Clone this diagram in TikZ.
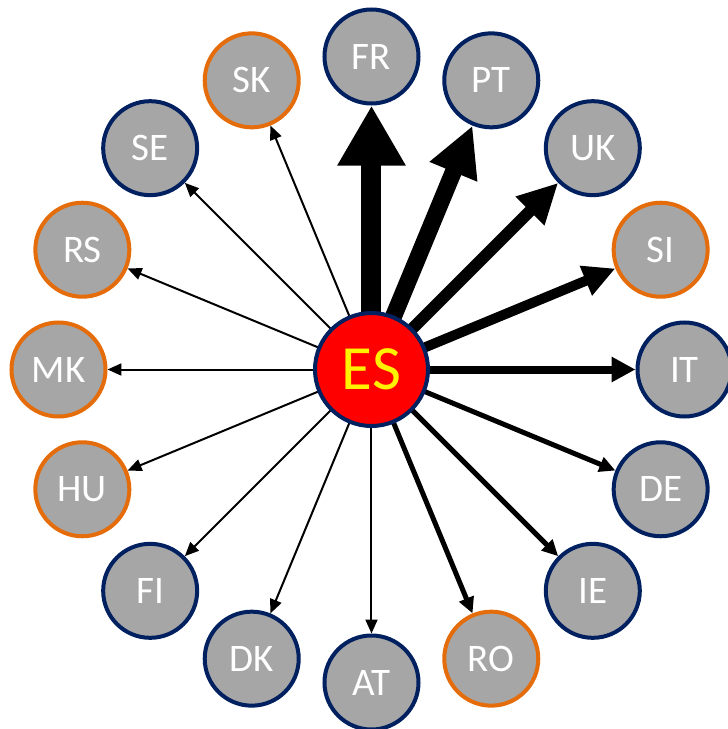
\documentclass[tikz,border=0pt]{standalone}
\usepackage{fontspec}
\setmainfont{Carlito}
\usetikzlibrary{arrows.meta,backgrounds}
\definecolor{navy}{HTML}{002060}
\definecolor{orng}{HTML}{E46C0A}
\definecolor{gry}{HTML}{A6A6A6}
\tikzset{
  cty/.style={circle,minimum size=94pt,inner sep=0pt,line width=4pt,fill=gry,
     text=white,font=\fontsize{39}{39}\selectfont},
  bluec/.style={cty,draw=navy},
  orac/.style={cty,draw=orng},
  hub/.style={circle,minimum size=113pt,inner sep=0pt,line width=4pt,fill=red,draw=navy,
     text=yellow,font=\fontsize{63}{63}\selectfont},
  arw/.style={draw=black,line width=#1},
  wA/.style={arw=20pt,-{Triangle[length=60pt,width=64pt]}},
  wB/.style={arw=17pt,-{Triangle[length=50pt,width=48pt]}},
  wC/.style={arw=12pt,-{Triangle[length=40pt,width=38pt]}},
  wD/.style={arw=10pt,-{Triangle[length=32pt,width=30pt]}},
  wE/.style={arw=8pt,-{Triangle[length=24pt,width=24pt]}},
  wF/.style={arw=5pt,-{Triangle[length=16pt,width=15pt]}},
  wG/.style={arw=2pt,-{Triangle[length=14pt,width=12pt]}},
}
\begin{document}
\begin{tikzpicture}[x=1pt,y=1pt]
\useasboundingbox (-371.5,-359.5) rectangle (356.5,369.5);
\node[hub] (es) at (0,0) {ES};
\node[bluec] (fr) at (90:313) {FR};
\node[bluec] (pt) at (67.5:313) {PT};
\node[bluec] (uk) at (45:313) {UK};
\node[orac]  (si) at (22.5:313) {SI};
\node[bluec] (it) at (0:313) {IT};
\node[bluec] (de) at (-22.5:313) {DE};
\node[bluec] (ie) at (-45:313) {IE};
\node[orac]  (ro) at (-67.5:313) {RO};
\node[bluec] (at) at (-90:313) {AT};
\node[bluec] (dk) at (-112.5:313) {DK};
\node[bluec] (fi) at (-135:313) {FI};
\node[orac]  (hu) at (-157.5:313) {HU};
\node[orac]  (mk) at (180:313) {MK};
\node[orac]  (rs) at (157.5:313) {RS};
\node[bluec] (se) at (135:313) {SE};
\node[orac]  (sk) at (112.5:313) {SK};
\begin{pgfonlayer}{background}
\draw[wA] (es.center) -- (fr);
\draw[wB] (es.center) -- (pt);
\draw[wC] (es.center) -- (uk);
\draw[wD] (es.center) -- (si);
\draw[wE] (es.center) -- (it);
\draw[wF] (es.center) -- (de);
\draw[wF] (es.center) -- (ie);
\draw[wF] (es.center) -- (ro);
\draw[wG] (es.center) -- (at);
\draw[wG] (es.center) -- (dk);
\draw[wG] (es.center) -- (fi);
\draw[wG] (es.center) -- (hu);
\draw[wG] (es.center) -- (mk);
\draw[wG] (es.center) -- (rs);
\draw[wG] (es.center) -- (se);
\draw[wG] (es.center) -- (sk);
\end{pgfonlayer}
\end{tikzpicture}
\end{document}
